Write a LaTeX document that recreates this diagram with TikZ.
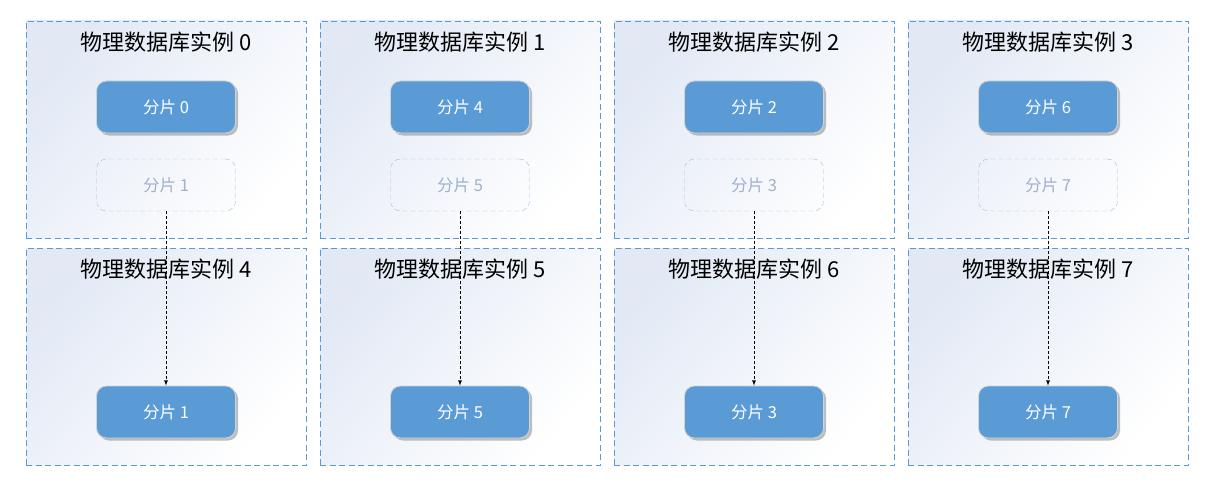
\documentclass[tikz,border=0pt]{standalone}
\usepackage{fontspec}
\setmainfont{Noto Sans CJK SC}
\usetikzlibrary{shadows}

\definecolor{shardblue}{HTML}{5B9BD5}
\definecolor{ghostline}{HTML}{A9BAD3}
\definecolor{ghosttext}{HTML}{9FB1CB}
\definecolor{instbg}{HTML}{E2E9F5}

\tikzset{
  instance/.style={draw=shardblue, dashed, dash pattern=on 6pt off 3.5pt, line width=0.9pt,
    minimum width=280pt, minimum height=217pt, inner sep=0pt,
    shading=axis, top color=instbg, middle color=white!97!instbg, bottom color=white,
    shading angle=50},
  title/.style={font=\fontsize{22}{26}\selectfont, text=black},
  shard/.style={rounded corners=10pt, fill=shardblue, draw=gray!35, line width=0.8pt,
    minimum width=139pt, minimum height=52pt, text=white,
    font=\fontsize{16.5}{19}\selectfont,
    drop shadow={shadow xshift=2.5pt, shadow yshift=-2.5pt, opacity=0.5}},
  ghost/.style={rounded corners=10pt, draw=ghostline, dashed, dash pattern=on 5pt off 3pt,
    minimum width=139pt, minimum height=52pt, text=ghosttext,
    font=\fontsize{16.5}{19}\selectfont},
  move/.style={->, >=latex, dashed, dash pattern=on 3pt off 2pt, line width=0.8pt, black}
}

\begin{document}
\begin{tikzpicture}[x=1pt, y=-1pt]
\useasboundingbox (0,0) rectangle (1216,487);
% instances, top row
\node [instance] (i0) at (166,129.5) {};
\node [instance] (i1) at (460,129.5) {};
\node [instance] (i2) at (754,129.5) {};
\node [instance] (i3) at (1048,129.5) {};
% instances, bottom row
\node [instance] (i4) at (166,356.5) {};
\node [instance] (i5) at (460,356.5) {};
\node [instance] (i6) at (754,356.5) {};
\node [instance] (i7) at (1048,356.5) {};
\node [title] (t0) at (166,42) {物理数据库实例 0};
\node [title] (t1) at (460,42) {物理数据库实例 1};
\node [title] (t2) at (754,42) {物理数据库实例 2};
\node [title] (t3) at (1048,42) {物理数据库实例 3};
\node [title] (t4) at (166,269) {物理数据库实例 4};
\node [title] (t5) at (460,269) {物理数据库实例 5};
\node [title] (t6) at (754,269) {物理数据库实例 6};
\node [title] (t7) at (1048,269) {物理数据库实例 7};
% shards
\node [shard] (s0) at (166,107) {分片 0};
\node [shard] (s4) at (460,107) {分片 4};
\node [shard] (s2) at (754,107) {分片 2};
\node [shard] (s6) at (1048,107) {分片 6};
\node [ghost] (g1) at (166,185) {分片 1};
\node [ghost] (g5) at (460,185) {分片 5};
\node [ghost] (g3) at (754,185) {分片 3};
\node [ghost] (g7) at (1048,185) {分片 7};
\node [shard] (s1) at (166,412) {分片 1};
\node [shard] (s5) at (460,412) {分片 5};
\node [shard] (s3) at (754,412) {分片 3};
\node [shard] (s7) at (1048,412) {分片 7};
\path [move] (g1) edge (s1)
             (g5) edge (s5)
             (g3) edge (s3)
             (g7) edge (s7);
\end{tikzpicture}
\end{document}
